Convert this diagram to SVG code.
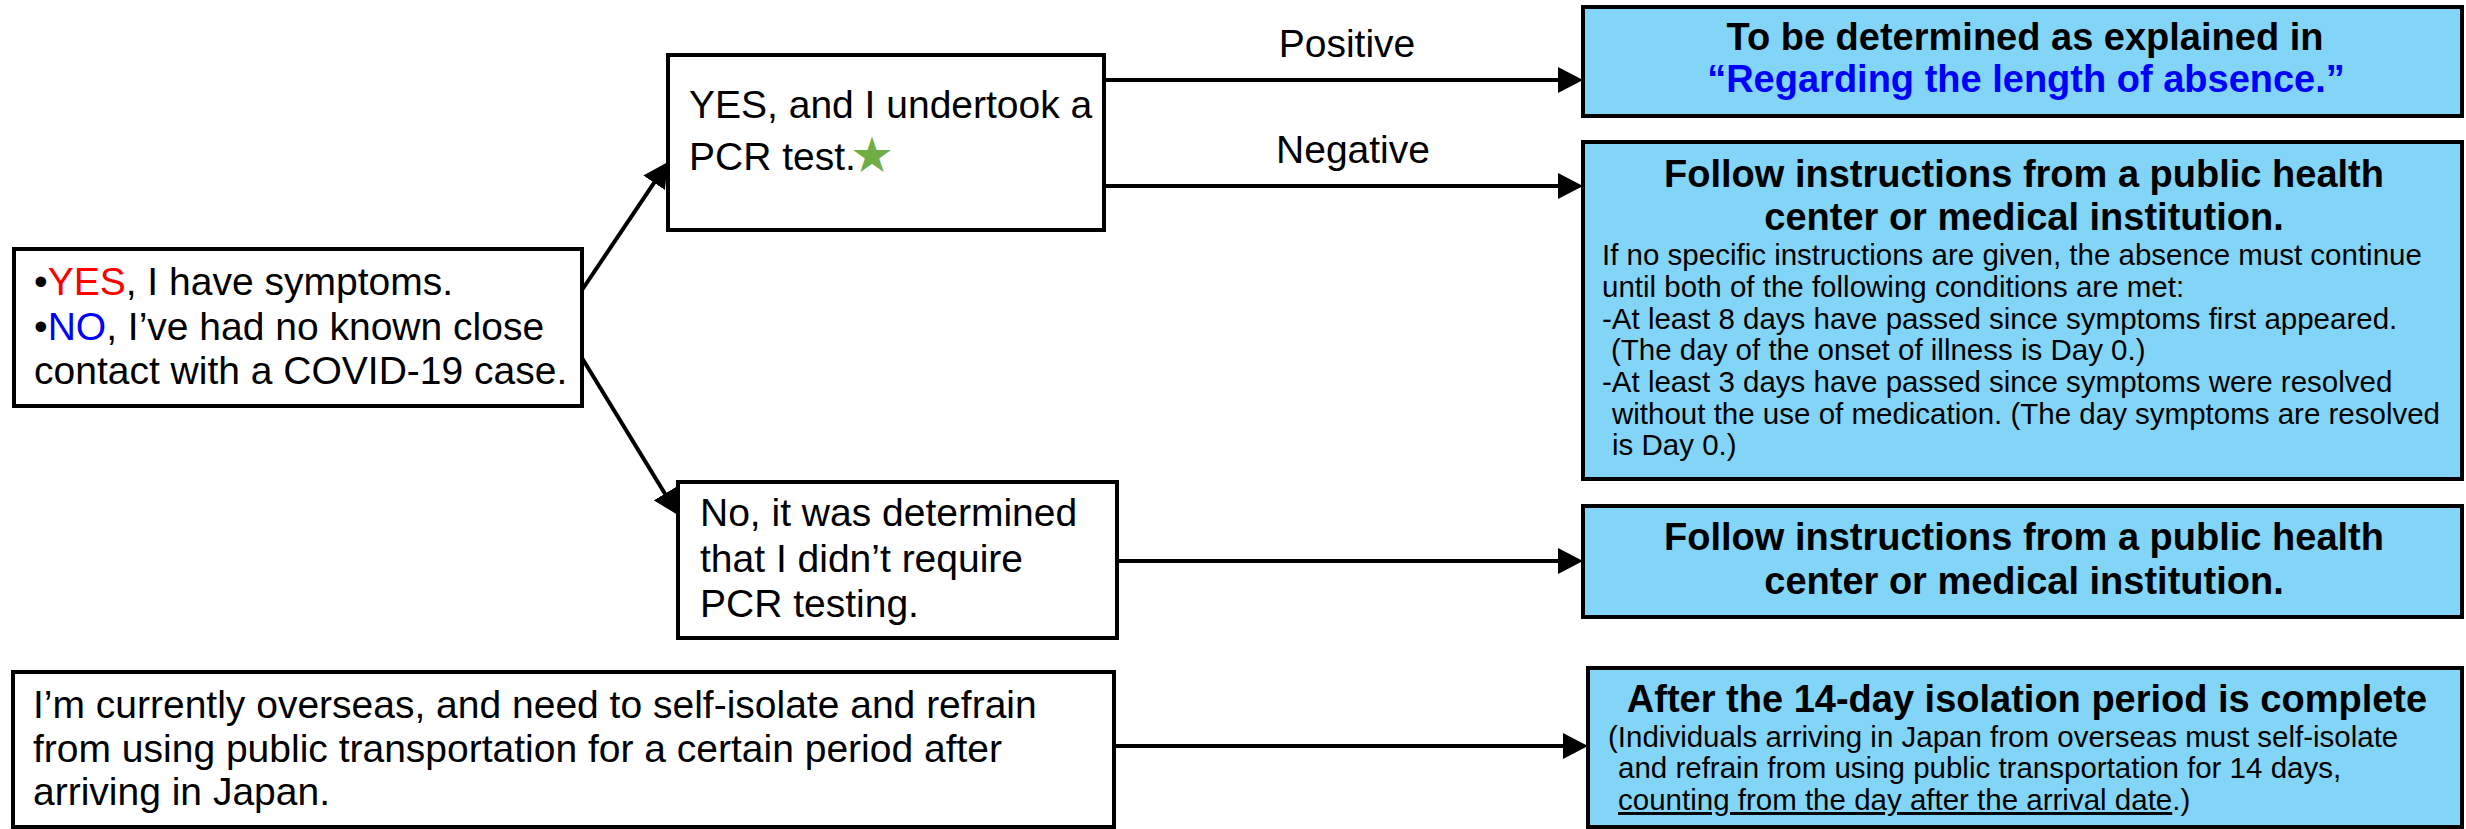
<svg xmlns="http://www.w3.org/2000/svg" width="2466" height="829" viewBox="0 0 2466 829">
<style>
.box{fill:#ffffff;stroke:#000;stroke-width:4}
.blue{fill:#82D5F7;stroke:#000;stroke-width:4}
.t{font-family:"Liberation Sans",Arial,sans-serif;font-size:39px;fill:#000}
.b{font-family:"Liberation Sans",Arial,sans-serif;font-size:38px;font-weight:bold;fill:#000;text-anchor:middle}
.s{font-family:"Liberation Sans",Arial,sans-serif;font-size:29.5px;fill:#000}
.conn{stroke:#000;stroke-width:4;fill:none;marker-end:url(#ah)}
</style>
<defs>
<marker id="ah" viewBox="0 0 25 26" refX="21" refY="13" markerWidth="25" markerHeight="26" markerUnits="userSpaceOnUse" orient="auto">
<path d="M0,0 L25,13 L0,26 Z" fill="#000"/>
</marker>
</defs>
<rect width="2466" height="829" fill="#fff"/>
<g id="connectors">
<line class="conn" x1="582" y1="290" x2="665.8" y2="165.3"/>
<line class="conn" x1="582" y1="358" x2="675.9" y2="511.6"/>
<line class="conn" x1="1104" y1="80" x2="1579" y2="80"/>
<line class="conn" x1="1104" y1="186" x2="1579" y2="186"/>
<line class="conn" x1="1117" y1="561" x2="1579" y2="561"/>
<line class="conn" x1="1114" y1="746" x2="1584" y2="746"/>
<text class="t" x="1347" y="57" text-anchor="middle">Positive</text>
<text class="t" x="1353" y="163" text-anchor="middle">Negative</text>
</g>
<g id="node-symptoms">
<rect class="box" x="14" y="249" width="568" height="157"/>
<text class="t" x="34" y="295">•<tspan fill="#FF0000">YES</tspan>, I have symptoms.</text>
<text class="t" x="34" y="340">•<tspan fill="#0000FF">NO</tspan>, I’ve had no known close</text>
<text class="t" x="34" y="384">contact with a COVID-19 case.</text>
</g>
<g id="node-pcr-yes">
<rect class="box" x="668" y="55" width="436" height="175"/>
<text class="t" x="689" y="118">YES, and I undertook a</text>
<text class="t" x="689" y="170">PCR test.</text>
<text x="852" y="169" font-family="'Noto Sans CJK JP','DejaVu Sans',sans-serif" font-size="40" fill="#70AD47">★</text>
</g>
<g id="node-pcr-no">
<rect class="box" x="678" y="482" width="439" height="156"/>
<text class="t" x="700" y="526">No, it was determined</text>
<text class="t" x="700" y="572">that I didn’t require</text>
<text class="t" x="700" y="617">PCR testing.</text>
</g>
<g id="node-overseas">
<rect class="box" x="13" y="672" width="1101" height="155"/>
<text class="t" x="33" y="718">I’m currently overseas, and need to self-isolate and refrain</text>
<text class="t" x="33" y="762">from using public transportation for a certain period after</text>
<text class="t" x="33" y="805">arriving in Japan.</text>
</g>
<g id="node-positive">
<rect class="blue" x="1583" y="7" width="879" height="109"/>
<text class="b" x="2025" y="50">To be determined as explained in</text>
<text class="b" x="2026" y="92" fill="#0000FF" style="fill:#0000FF">“Regarding the length of absence.”</text>
</g>
<g id="node-negative">
<rect class="blue" x="1583" y="142" width="879" height="337"/>
<text class="b" x="2024" y="187">Follow instructions from a public health</text>
<text class="b" x="2024" y="230">center or medical institution.</text>
<text class="s" x="1602" y="265">If no specific instructions are given, the absence must continue</text>
<text class="s" x="1602" y="297">until both of the following conditions are met:</text>
<text class="s" x="1602" y="329">-At least 8 days have passed since symptoms first appeared.</text>
<text class="s" x="1611" y="360">(The day of the onset of illness is Day 0.)</text>
<text class="s" x="1602" y="392">-At least 3 days have passed since symptoms were resolved</text>
<text class="s" x="1612" y="424">without the use of medication. (The day symptoms are resolved</text>
<text class="s" x="1612" y="455">is Day 0.)</text>
</g>
<g id="node-no-pcr">
<rect class="blue" x="1583" y="506" width="879" height="111"/>
<text class="b" x="2024" y="550">Follow instructions from a public health</text>
<text class="b" x="2024" y="594">center or medical institution.</text>
</g>
<g id="node-isolation">
<rect class="blue" x="1588" y="668" width="874" height="159"/>
<text class="b" x="2027" y="712">After the 14-day isolation period is complete</text>
<text class="s" x="1608" y="747">(Individuals arriving in Japan from overseas must self-isolate</text>
<text class="s" x="1618" y="778">and refrain from using public transportation for 14 days,</text>
<text class="s" x="1618" y="810"><tspan style="text-decoration:underline">counting from the day after the arrival date</tspan>.)</text>
</g>
</svg>
